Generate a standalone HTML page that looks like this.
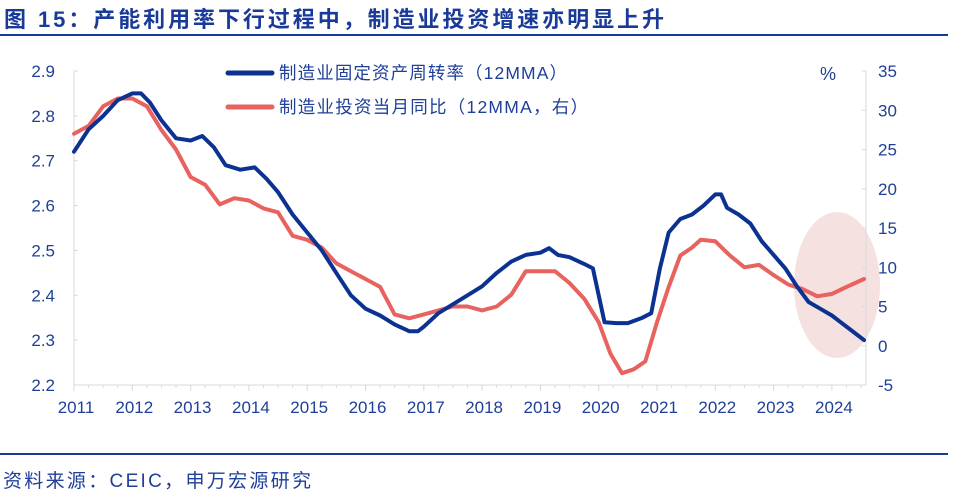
<!DOCTYPE html>
<html><head><meta charset="utf-8"><style>
body{margin:0;background:#fff;font-family:"Liberation Sans","Noto Sans CJK SC",sans-serif;}
</style></head><body>
<svg id="chart" width="960" height="495" xmlns="http://www.w3.org/2000/svg" font-family="Liberation Sans, Noto Sans CJK SC, sans-serif">
<text x="4" y="27" font-size="22" font-weight="bold" fill="#1a3a9a" textLength="660" lengthAdjust="spacing">图 15：产能利用率下行过程中，制造业投资增速亦明显上升</text>
<line x1="0" y1="35" x2="948" y2="35" stroke="#1a3a9a" stroke-width="2"/>
<ellipse cx="837" cy="285" rx="43" ry="73" fill="#f4dcdc" opacity="0.85"/>
<g id="axes"></g>
<g id="series"></g>
<g>
<line x1="228" y1="73" x2="272" y2="73" stroke="#0b3291" stroke-width="5" stroke-linecap="round"/>
<text x="279" y="79" font-size="17.5" fill="#1f3f99" textLength="288" lengthAdjust="spacing">制造业固定资产周转率（12MMA）</text>
<line x1="228" y1="107" x2="272" y2="107" stroke="#e8625f" stroke-width="5" stroke-linecap="round"/>
<text x="279" y="113" font-size="17.5" fill="#1f3f99" textLength="309" lengthAdjust="spacing">制造业投资当月同比（12MMA，右）</text>
</g>
<text x="820" y="80" font-size="18" fill="#1f3f99">%</text>
<line x1="0" y1="454" x2="948" y2="454" stroke="#1a3a9a" stroke-width="2"/>
<text x="3" y="487" font-size="19" fill="#1f3f99" textLength="308" lengthAdjust="spacing">资料来源：CEIC，申万宏源研究</text>
</svg>
<script>
const blueYears=[2011.0,2011.25,2011.5,2011.75,2012.0,2012.15,2012.3,2012.5,2012.75,2013.0,2013.2,2013.4,2013.6,2013.85,2014.1,2014.3,2014.5,2014.75,2015.0,2015.25,2015.5,2015.75,2016.0,2016.25,2016.5,2016.75,2016.9,2017.0,2017.25,2017.5,2017.75,2018.0,2018.25,2018.5,2018.75,2019.0,2019.15,2019.3,2019.5,2019.75,2019.9,2020.1,2020.3,2020.5,2020.75,2020.9,2021.05,2021.2,2021.4,2021.6,2021.8,2022.0,2022.1,2022.2,2022.4,2022.6,2022.8,2023.0,2023.2,2023.4,2023.6,2023.8,2024.0,2024.15,2024.3,2024.55];
const blueValues=[2.72,2.77,2.80,2.835,2.85,2.85,2.83,2.79,2.75,2.745,2.755,2.73,2.69,2.68,2.685,2.66,2.63,2.58,2.54,2.50,2.45,2.40,2.37,2.355,2.335,2.32,2.32,2.33,2.36,2.38,2.40,2.42,2.45,2.475,2.49,2.495,2.505,2.49,2.485,2.47,2.46,2.34,2.338,2.338,2.35,2.36,2.46,2.54,2.57,2.58,2.60,2.625,2.625,2.595,2.58,2.56,2.52,2.49,2.46,2.42,2.385,2.37,2.355,2.34,2.325,2.30];
const redYears=[2011.0,2011.25,2011.5,2011.75,2012.0,2012.25,2012.5,2012.75,2013.0,2013.25,2013.5,2013.75,2014.0,2014.25,2014.5,2014.75,2015.0,2015.25,2015.5,2015.75,2016.0,2016.25,2016.5,2016.75,2017.0,2017.25,2017.5,2017.75,2018.0,2018.25,2018.5,2018.75,2019.0,2019.25,2019.5,2019.75,2020.0,2020.2,2020.4,2020.6,2020.8,2021.0,2021.2,2021.4,2021.6,2021.75,2022.0,2022.25,2022.5,2022.75,2023.0,2023.25,2023.5,2023.75,2024.0,2024.25,2024.55];
const redValues=[27,28,30.5,31.5,31.5,30.5,27.5,25,21.5,20.5,18,18.8,18.5,17.5,17,14,13.5,12.5,10.5,9.5,8.5,7.5,4,3.5,4,4.5,5,5,4.5,5,6.5,9.5,9.5,9.5,8,6,3,-1,-3.5,-3,-2,3,7.5,11.5,12.5,13.5,13.3,11.5,10,10.3,9,7.8,7.2,6.3,6.6,7.5,8.5];
const leftTicks=["2.9","2.8","2.7","2.6","2.5","2.4","2.3","2.2"];
const rightTicks=["35","30","25","20","15","10","5","0","-5"];
const yearLabels=["2011","2012","2013","2014","2015","2016","2017","2018","2019","2020","2021","2022","2023","2024"];

const NS="http://www.w3.org/2000/svg";
const X0=74,YW=58.3,TOP=71,BOT=385;
const xS=y=>X0+(y-2011)*YW;
const yL=v=>TOP+(2.9-v)/0.7*(BOT-TOP);
const yR=v=>TOP+(35-v)/40*(BOT-TOP);
const axes=document.getElementById('axes'),ser=document.getElementById('series');
function mk(t,a,p){const e=document.createElementNS(NS,t);for(const k in a)e.setAttribute(k,a[k]);p.appendChild(e);return e;}
const AX="#d9d9d9",TC="#1f3f99";
let e;
e=mk('line',{x1:X0,y1:TOP,x2:X0,y2:BOT,stroke:AX},axes);


e=mk('line',{x1:866,y1:TOP,x2:866,y2:BOT,stroke:AX},axes);


e=mk('line',{x1:X0,y1:BOT,x2:866,y2:BOT,stroke:AX},axes);


leftTicks.forEach(t=>{const y=yL(parseFloat(t));
 mk('line',{x1:X0,y1:y,x2:X0+4,y2:y,stroke:AX},axes);
 e=mk('text',{x:55,y:y+6,'font-size':17,fill:TC,'text-anchor':'end'},axes);e.textContent=t;
 
 });
rightTicks.forEach(t=>{const y=yR(parseFloat(t));
 mk('line',{x1:862,y1:y,x2:866,y2:y,stroke:AX},axes);
 e=mk('text',{x:878,y:y+6,'font-size':17,fill:TC},axes);e.textContent=t;
 
 });
for(let m=0;m<=13.5*12;m+=3){const x=xS(2011+m/12);const big=m%12==0;
 mk('line',{x1:x,y1:BOT,x2:x,y2:BOT+(big?6:3),stroke:AX},axes);}
yearLabels.forEach(t=>{e=mk('text',{x:xS(+t)+2,y:BOT+28,'font-size':17,fill:TC,'text-anchor':'middle'},axes);e.textContent=t;
 
 });
function path(xs,vs,f){return xs.map((x,i)=>(i?'L':'M')+xS(x).toFixed(1)+','+f(vs[i]).toFixed(1)).join('');}
e=mk('path',{d:path(redYears,redValues,yR),fill:'none',stroke:'#e8625f','stroke-width':4,'stroke-linejoin':'round','stroke-linecap':'round'},ser);


e=mk('path',{d:path(blueYears,blueValues,yL),fill:'none',stroke:'#0b3291','stroke-width':4,'stroke-linejoin':'round','stroke-linecap':'round'},ser);


</script>
</body></html>
